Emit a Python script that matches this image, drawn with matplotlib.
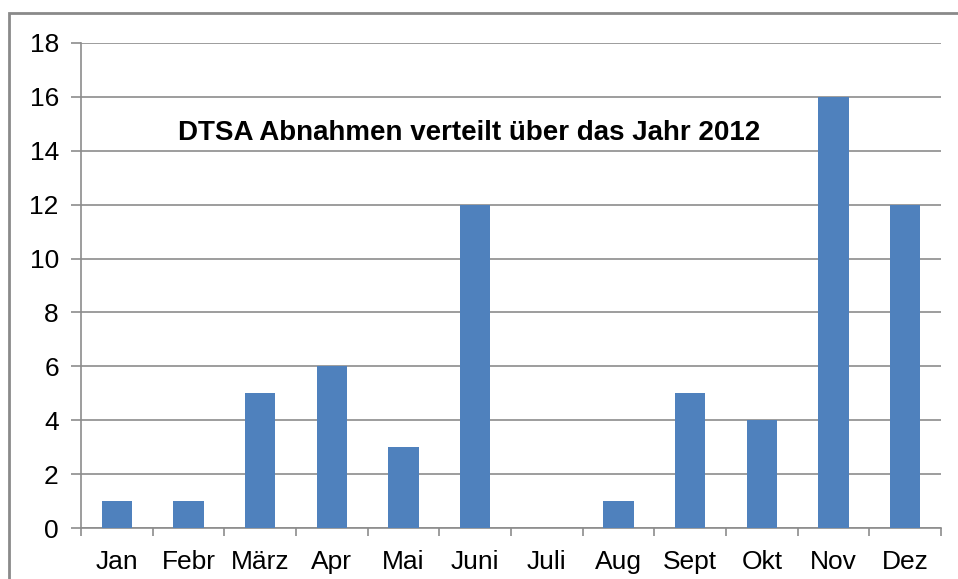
import matplotlib
matplotlib.use("Agg")
import matplotlib.pyplot as plt
from matplotlib.patches import Rectangle
import numpy as np

months = ["Jan", "Febr", "März", "Apr", "Mai", "Juni", "Juli", "Aug", "Sept", "Okt", "Nov", "Dez"]
values = [1, 1, 5, 6, 3, 12, 0, 1, 5, 4, 16, 12]
yticks = [0, 2, 4, 6, 8, 10, 12, 14, 16, 18]
title = "DTSA Abnahmen verteilt über das Jahr 2012"

plt.rcParams['font.family'] = ['Liberation Sans', 'DejaVu Sans']

W, H = 958, 579
fig = plt.figure(figsize=(W / 100, H / 100), dpi=100)
ax = fig.add_axes([81 / W, 1 - 528 / H, (941 - 81) / W, (528 - 43) / H])

gray = "#8c8c8c"
x = np.arange(len(months))
ax.bar(x, values, width=0.42, color="#4F81BD", zorder=3)
ax.set_xlim(-0.5, len(months) - 0.5)
ax.set_ylim(0, 18)
ax.set_yticks(yticks)
ax.set_yticklabels([str(t) for t in yticks], fontsize=19)
ax.set_xticks(x)
ax.set_xticklabels(months, fontsize=19)
ax.set_xticks(np.arange(len(months) + 1) - 0.5, minor=True)
ax.tick_params(axis='x', which='major', length=0, pad=16)
ax.tick_params(axis='x', which='minor', length=6, color=gray, width=1.2, direction='out')
ax.tick_params(axis='y', length=7, color=gray, width=1.2, pad=9)
ax.yaxis.grid(True, color=gray, linewidth=1.2, zorder=0)
ax.set_axisbelow(True)
for s in ['top', 'right']:
    ax.spines[s].set_visible(False)
for s in ['left', 'bottom']:
    ax.spines[s].set_color(gray)
    ax.spines[s].set_linewidth(1.2)

ax.text(0.451, 0.814, title, transform=ax.transAxes, ha='center', va='center',
        fontsize=20, fontweight='bold')

fig.patches.append(Rectangle((8.5 / W, -0.05), 1.1, 1 - 12.5 / H + 0.05,
                             transform=fig.transFigure, fill=False,
                             edgecolor="#8a8a8a", linewidth=2))

fig.savefig("out.png", dpi=100)
